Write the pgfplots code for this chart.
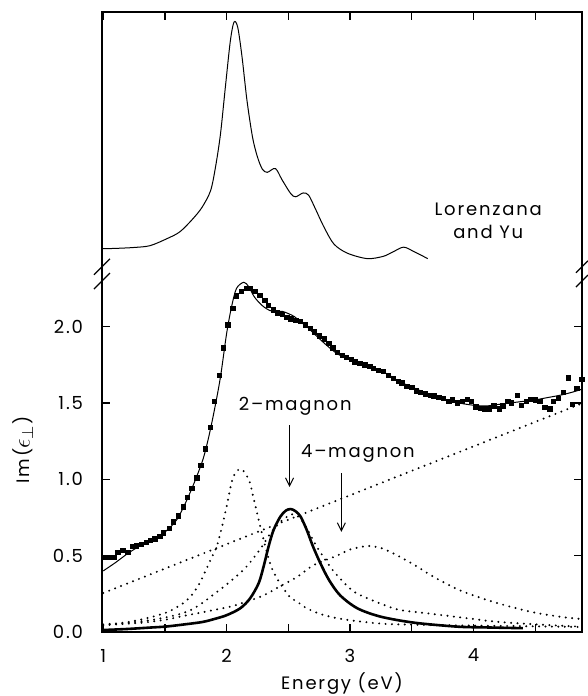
\documentclass[border=0pt]{standalone}
\usepackage{fontspec}
\setmainfont{Poppins}[LetterSpace=10]
\usepackage{pgfplots}
\pgfplotsset{compat=1.18}
\usetikzlibrary{arrows.meta}
\begin{document}
\begin{tikzpicture}
\begin{axis}[
  scale only axis, width=240pt, height=310pt,
  xmin=0.99, xmax=4.88, ymin=0, ymax=4.06,
  clip=false,
  font=\fontsize{9}{11.5}\selectfont,
  axis line style={line width=0.6pt},
  xtick={1,1.5,2,2.5,3,3.5,4,4.5}, xticklabels={1,,2,,3,,4,},
  ytick={0,0.5,1,1.5,2}, yticklabels={0.0,0.5,1.0,1.5,2.0},
  tick align=inside, tick pos=both, major tick length=4pt,
  tick style={line width=0.6pt, black},
  xticklabel style={yshift=-5pt},
  yticklabel style={xshift=-6pt},
  xlabel={Energy (eV)}, ylabel={Im({\fontsize{11.5}{13}\selectfont$\epsilon_{\perp}$})},
  xlabel style={at={(rel axis cs:0.5,-0.0823)}, anchor=center},
  ylabel style={at={(rel axis cs:-0.1646,0.2935)}, anchor=center},
  dotc/.style={line cap=round, dash pattern=on 0pt off 3.2pt, line width=1.1pt, smooth},
]
% Lorenzana and Yu (upper panel, offset scale)
\addplot[line width=0.5pt, smooth] coordinates {
(0.99,2.51) (1.1,2.512) (1.25,2.518) (1.38,2.53) (1.52,2.577) (1.62,2.62) (1.72,2.70) (1.80,2.78)
(1.87,2.89) (1.91,3.045) (1.95,3.26) (1.99,3.57) (2.03,3.87) (2.06,3.994) (2.09,3.96)
(2.125,3.765) (2.165,3.48) (2.21,3.24) (2.25,3.11) (2.29,3.03) (2.33,3.01) (2.395,3.035)
(2.45,2.96) (2.52,2.87) (2.56,2.85) (2.62,2.875) (2.665,2.86) (2.72,2.77) (2.79,2.65)
(2.87,2.54) (2.98,2.48) (3.14,2.445) (3.27,2.46) (3.35,2.49) (3.435,2.52) (3.52,2.49) (3.63,2.445)
};
% total fit (thin)
\addplot[line width=0.5pt, smooth] coordinates {
(1.0,0.40) (1.1,0.455) (1.2,0.515) (1.3,0.565) (1.4,0.61) (1.5,0.655) (1.6,0.74) (1.7,0.905)
(1.8,1.11) (1.85,1.26) (1.9,1.45) (1.95,1.67) (2.0,1.955) (2.04,2.13) (2.08,2.25) (2.14,2.29)
(2.18,2.26) (2.22,2.20) (2.26,2.16) (2.3,2.13) (2.35,2.105) (2.4,2.10) (2.45,2.10) (2.5,2.085)
(2.55,2.065) (2.6,2.03) (2.65,2.00) (2.7,1.96) (2.8,1.885) (2.9,1.82) (3.0,1.785) (3.1,1.755)
(3.2,1.725) (3.3,1.69) (3.4,1.64) (3.5,1.605) (3.6,1.57) (3.7,1.54) (3.8,1.515) (3.9,1.497)
(4.0,1.485) (4.1,1.48) (4.2,1.49) (4.3,1.50) (4.4,1.51) (4.5,1.52) (4.6,1.535) (4.7,1.55)
(4.8,1.57) (4.88,1.59)
};
% data
\addplot[only marks, mark=square*, mark size=1.1pt] coordinates {
(1.02,0.49) (1.05,0.49) (1.09,0.49) (1.12,0.52) (1.16,0.535) (1.20,0.52) (1.24,0.56) (1.27,0.565)
(1.31,0.575) (1.35,0.585) (1.38,0.60) (1.42,0.61) (1.46,0.625) (1.49,0.65) (1.535,0.68) (1.57,0.72)
(1.61,0.76) (1.65,0.82) (1.68,0.88) (1.72,0.94) (1.76,1.01) (1.79,1.09) (1.83,1.20) (1.87,1.34)
(1.90,1.51) (1.94,1.68) (1.976,1.86) (2.01,2.01) (2.05,2.12) (2.08,2.20) (2.12,2.23) (2.16,2.25)
(2.19,2.25) (2.23,2.23) (2.27,2.205) (2.31,2.17) (2.34,2.14) (2.38,2.11) (2.41,2.09) (2.45,2.08)
(2.49,2.06) (2.52,2.05) (2.56,2.04) (2.60,2.035) (2.64,2.01) (2.68,1.99) (2.71,1.965) (2.75,1.94)
(2.79,1.92) (2.83,1.89) (2.86,1.86) (2.90,1.83) (2.94,1.81) (2.97,1.80) (3.01,1.785) (3.04,1.77)
(3.08,1.76) (3.12,1.75) (3.16,1.738) (3.19,1.728) (3.23,1.715) (3.27,1.705) (3.31,1.68) (3.35,1.66)
(3.39,1.64) (3.42,1.63) (3.46,1.61) (3.50,1.60) (3.54,1.58) (3.57,1.57) (3.61,1.56) (3.65,1.55)
(3.68,1.545) (3.72,1.535) (3.755,1.53) (3.80,1.51) (3.83,1.52) (3.87,1.50) (3.91,1.51) (3.95,1.525)
(3.985,1.51) (4.02,1.475) (4.06,1.465) (4.09,1.46) (4.13,1.46) (4.165,1.48) (4.21,1.46) (4.24,1.48)
(4.28,1.51) (4.31,1.50) (4.355,1.55) (4.39,1.485) (4.43,1.51) (4.46,1.525) (4.50,1.52) (4.54,1.51)
(4.58,1.47) (4.62,1.46) (4.65,1.51) (4.69,1.53) (4.73,1.57) (4.77,1.665) (4.80,1.49) (4.84,1.595)
(4.88,1.655)
};
% 2-magnon (bold)
\addplot[line width=1.3pt, smooth] coordinates {
(1.0,0.013) (1.2,0.02) (1.4,0.03) (1.5,0.035) (1.62,0.046) (1.8,0.065) (1.9,0.085) (2.0,0.11)
(2.11,0.155) (2.19,0.22) (2.26,0.32) (2.30,0.43) (2.34,0.56) (2.38,0.667) (2.435,0.755) (2.48,0.795)
(2.52,0.805) (2.56,0.79) (2.60,0.755) (2.65,0.667) (2.70,0.56) (2.76,0.45) (2.83,0.34) (2.92,0.24)
(3.06,0.155) (3.25,0.10) (3.52,0.061) (3.87,0.035) (4.1,0.03) (4.4,0.025)
};
% linear background
\addplot[dotc] coordinates {(1.0,0.255) (4.88,1.497)};
% narrow peak
\addplot[dotc] coordinates {
(1.0,0.05) (1.2,0.065) (1.4,0.10) (1.52,0.13) (1.58,0.155) (1.65,0.19) (1.705,0.23) (1.76,0.29)
(1.80,0.35) (1.84,0.42) (1.88,0.49) (1.92,0.56) (1.95,0.65) (1.98,0.75) (2.01,0.86) (2.04,0.98)
(2.07,1.04) (2.10,1.065) (2.13,1.06) (2.165,1.02) (2.19,0.975) (2.22,0.87) (2.29,0.635) (2.37,0.41)
(2.50,0.24) (2.57,0.20) (2.65,0.155) (2.79,0.11) (2.98,0.079) (3.25,0.055) (3.5,0.048) (4.0,0.042)
(4.5,0.037) (4.88,0.033)
};
% 4-magnon
\addplot[dotc] coordinates {
(1.0,0.045) (1.3,0.06) (1.5,0.08) (1.62,0.10) (1.76,0.122) (1.895,0.144) (2.03,0.166) (2.165,0.20)
(2.30,0.24) (2.435,0.30) (2.57,0.36) (2.71,0.44) (2.895,0.50) (3.0,0.54) (3.14,0.563) (3.25,0.55)
(3.35,0.515) (3.52,0.44) (3.68,0.36) (3.87,0.28) (4.0,0.24) (4.19,0.19) (4.46,0.133) (4.7,0.10) (4.87,0.085)
};
% broad component near 2-magnon
\addplot[dotc] coordinates {
(1.0,0.045) (1.4,0.08) (1.7,0.14) (1.95,0.28) (2.14,0.41) (2.27,0.54) (2.35,0.64) (2.435,0.72)
(2.52,0.77) (2.56,0.765) (2.60,0.74) (2.65,0.68) (2.73,0.56) (2.855,0.41) (2.98,0.30) (3.06,0.25)
(3.25,0.185) (3.4,0.145) (3.65,0.12) (4.0,0.085) (4.19,0.067) (4.5,0.05) (4.87,0.035)
};
% annotations
\node[align=center, inner sep=0pt] at (axis cs:4.12,2.69) {Lorenzana\\and Yu};
\node[inner sep=0pt] at (axis cs:2.556,1.479) {2--magnon};
\node[inner sep=0pt] at (axis cs:3.064,1.171) {4--magnon};
\draw[line width=0.5pt, -{Straight Barb[length=4pt,width=4pt]}] (axis cs:2.51,1.355) -- (axis cs:2.51,0.95);
\draw[line width=0.5pt, -{Straight Barb[length=4pt,width=4pt]}] (axis cs:2.93,1.04) -- (axis cs:2.93,0.656);
% axis break marks
\draw[line width=0.6pt] ([shift={(-4pt,-4pt)}]rel axis cs:0,0.589) -- ([shift={(4pt,4pt)}]rel axis cs:0,0.589);
\draw[line width=0.6pt] ([shift={(-4pt,-4pt)}]rel axis cs:0,0.566) -- ([shift={(4pt,4pt)}]rel axis cs:0,0.566);
\draw[line width=0.6pt] ([shift={(-3pt,-3pt)}]rel axis cs:1,0.589) -- ([shift={(3pt,3pt)}]rel axis cs:1,0.589);
\draw[line width=0.6pt] ([shift={(-3pt,-3pt)}]rel axis cs:1,0.566) -- ([shift={(3pt,3pt)}]rel axis cs:1,0.566);
\end{axis}
\pgfresetboundingbox
\path ([shift={(-51pt,-32pt)}]current axis.south west) rectangle ([shift={(2.5pt,6pt)}]current axis.north east);
\end{tikzpicture}
\end{document}
